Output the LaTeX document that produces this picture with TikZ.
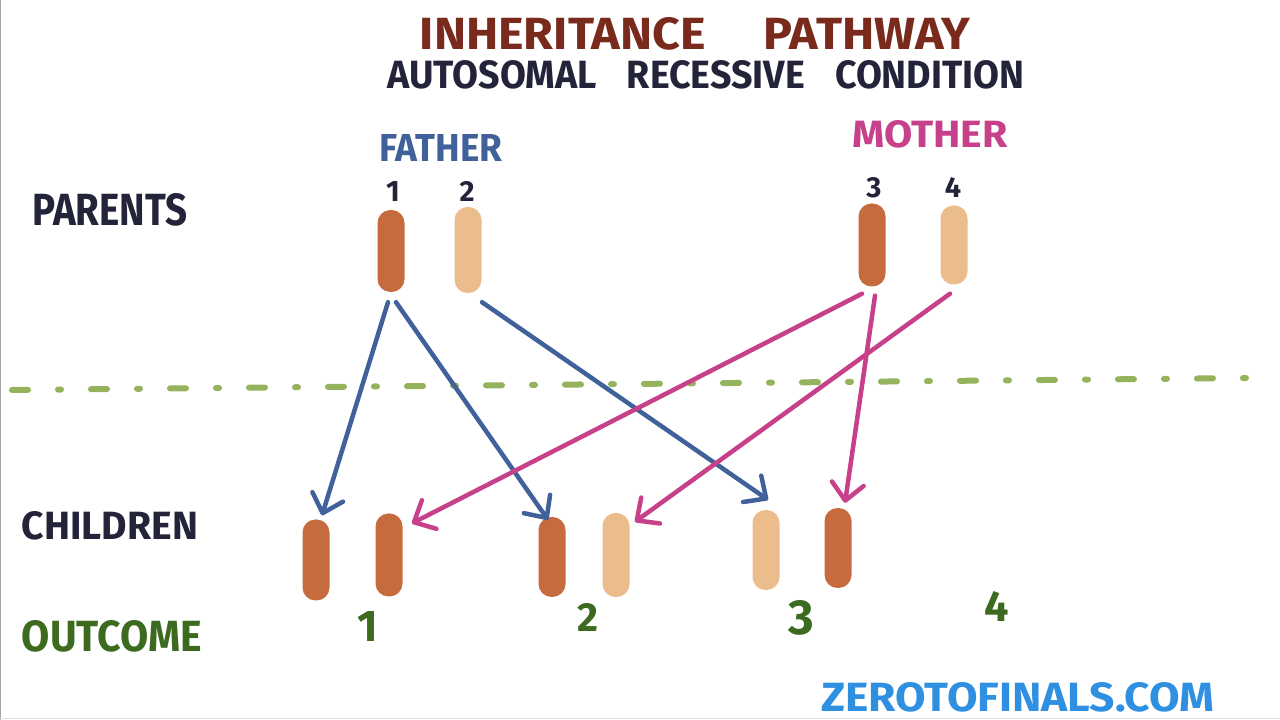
\documentclass[tikz,border=0pt]{standalone}
\usepackage{fontspec}
\setmainfont{Fira Sans}
\usetikzlibrary{arrows.meta,calc}
\definecolor{titlered}{HTML}{7A2A1C}
\definecolor{inkdark}{HTML}{23233A}
\definecolor{fblue}{HTML}{41619A}
\definecolor{mpink}{HTML}{C6408A}
\definecolor{ogreen}{HTML}{3C6A1E}
\definecolor{dgreen}{HTML}{95B25C}
\definecolor{chrdark}{HTML}{C66B3E}
\definecolor{chrlight}{HTML}{EBBD8C}
\definecolor{webblue}{HTML}{2F8FE0}
\newcommand{\fitbox}[3]{\resizebox{#1}{#2}{\bfseries #3}}
\begin{document}
\begin{tikzpicture}[x=1pt,y=1pt,
  lbl/.style={inner sep=0pt, outer sep=0pt},
  chr/.style={rectangle, rounded corners=13pt, minimum width=27pt, inner sep=0pt, draw=none},
  chrD/.style={chr, fill=chrdark},
  chrL/.style={chr, fill=chrlight},
  arr/.style={line width=4.5pt, line cap=round, line join=round, -{Straight Barb[length=17pt,width=32pt,line cap=round,line join=round]}},
  arrB/.style={arr, draw=fblue},
  arrM/.style={arr, draw=mpink}]
\useasboundingbox (0,0) rectangle (1280,720);
\fill[white] (0,0) rectangle (1280,720);
\draw[gray!70, line width=1.2pt] (0.6,0) -- (0.6,720);
\draw[gray!25, line width=1pt] (0,1) -- (1280,1);

% titles
\node[lbl, text=titlered] (title) at (695,686) {\fitbox{550pt}{32pt}{INHERITANCE\hspace{1.2em}PATHWAY}};
\node[lbl, text=inkdark] (subtitle) at (706,645) {\fitbox{637pt}{28pt}{AUTOSOMAL\hspace{0.8em}RECESSIVE\hspace{0.8em}CONDITION}};

% row labels
\node[lbl, text=inkdark] (parents) at (110,510) {\fitbox{155pt}{32pt}{PARENTS}};
\node[lbl, text=inkdark] (children) at (110,194) {\fitbox{176pt}{28pt}{CHILDREN}};
\node[lbl, text=ogreen] (outcome) at (112,84) {\fitbox{180pt}{31pt}{OUTCOME}};

\node[lbl, text=fblue] (father) at (441,572) {\fitbox{123pt}{27pt}{FATHER}};
\node[lbl, text=mpink] (mother) at (930,586) {\fitbox{155pt}{27pt}{MOTHER}};

% chromosome numbers
\node[lbl, text=inkdark] (n1) at (393,528) {\fitbox{!}{20pt}{1}};
\node[lbl, text=inkdark] (n2) at (467,528) {\fitbox{!}{20pt}{2}};
\node[lbl, text=inkdark] (n3) at (874,532) {\fitbox{!}{20pt}{3}};
\node[lbl, text=inkdark] (n4) at (953,532) {\fitbox{!}{20pt}{4}};

% dashed divider
\coordinate (dl) at (12,330);
\coordinate (dr) at (1250,342);
\draw[dgreen, line width=6pt, line cap=round, dash pattern=on 16pt off 30pt on 3pt off 30pt] (dl) -- (dr);

% parent chromosomes
\node[chrD, minimum height=82pt] (f1) at (391,469) {};
\node[chrL, minimum height=86pt] (f2) at (468,470) {};
\node[chrD, minimum height=83pt] (m3) at (872,475) {};
\node[chrL, minimum height=79pt] (m4) at (954,475) {};

% children chromosomes
\node[chrD, minimum height=81pt] (c1a) at (316,160) {};
\node[chrD, minimum height=83pt] (c1b) at (389,165) {};
\node[chrD, minimum height=80pt] (c2a) at (552,163) {};
\node[chrL, minimum height=84pt] (c2b) at (616,165) {};
\node[chrL, minimum height=80pt] (c3a) at (766,170) {};
\node[chrD, minimum height=80pt] (c3b) at (838,172) {};

% outcome numbers
\node[lbl, text=ogreen] (o1) at (368,93) {\fitbox{!}{30pt}{1}};
\node[lbl, text=ogreen] (o2) at (588,103) {\fitbox{!}{28pt}{2}};
\node[lbl, text=ogreen] (o3) at (801,102) {\fitbox{!}{34pt}{3}};
\node[lbl, text=ogreen] (o4) at (997,113) {\fitbox{!}{30pt}{4}};

% arrows from father
\draw[arrB] ($(f1.south)+(-3,-10)$) -- ($(c1a.north)+(6,4)$);
\draw[arrB] ($(f1.south)+(5,-10)$) -- ($(c2a.north)+(-4,-3)$);
\draw[arrB] ($(f2.south)+(14,-9)$) -- ($(c3a.north)+(2,10)$);
% arrows from mother
\draw[arrM] ($(m3.south)+(-10,-7)$) -- ($(c1b.north)+(23,-10)$);
\draw[arrM] ($(m3.south)+(3,-9)$) -- ($(c3b.north)+(7,5)$);
\draw[arrM] ($(m4.south)+(-4,-9)$) -- ($(c2b.north)+(19,-9)$);

\node[lbl, text=webblue] (web) at (1018,23) {\fitbox{393pt}{29pt}{ZEROTOFINALS.COM}};
\end{tikzpicture}
\end{document}
